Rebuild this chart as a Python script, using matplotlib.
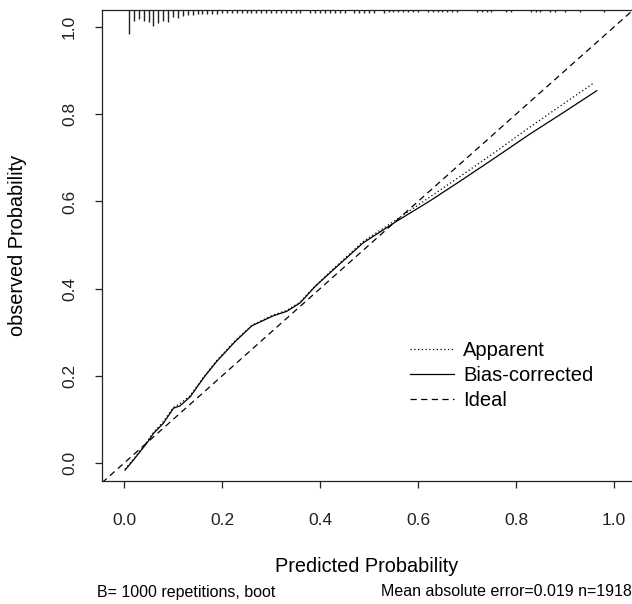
import matplotlib
matplotlib.use("Agg")
import matplotlib.pyplot as plt
from matplotlib.lines import Line2D

plt.rcParams['font.family'] = ['Liberation Sans', 'DejaVu Sans']

# calibration curves
pred_x = [0.002, 0.022, 0.046, 0.06, 0.08, 0.101, 0.114, 0.135, 0.162, 0.189,
          0.227, 0.261, 0.305, 0.332, 0.359, 0.39, 0.42, 0.488, 0.557, 0.624,
          0.692, 0.761, 0.829, 0.897, 0.965]
bias_corrected = [-0.016, 0.011, 0.045, 0.068, 0.091, 0.126, 0.131, 0.152, 0.195, 0.233,
                  0.279, 0.315, 0.338, 0.348, 0.367, 0.405, 0.436, 0.505, 0.555, 0.601,
                  0.651, 0.703, 0.755, 0.804, 0.854]
apparent_x = [0.002, 0.022, 0.046, 0.06, 0.08, 0.101, 0.114, 0.135, 0.162, 0.189,
              0.227, 0.261, 0.305, 0.332, 0.359, 0.39, 0.42, 0.488, 0.557, 0.624,
              0.692, 0.761, 0.829, 0.897, 0.958]
apparent = [-0.014, 0.013, 0.048, 0.070, 0.095, 0.128, 0.136, 0.155, 0.197, 0.235,
            0.281, 0.316, 0.340, 0.350, 0.369, 0.406, 0.438, 0.508, 0.559, 0.610,
            0.662, 0.716, 0.771, 0.824, 0.871]

# rug of predicted probabilities (top of plot)
rug_x = [0.01, 0.02, 0.03, 0.04, 0.05, 0.06, 0.07, 0.08, 0.09, 0.10,
         0.11, 0.12, 0.13, 0.14, 0.15, 0.16, 0.17, 0.18, 0.19, 0.20,
         0.21, 0.22, 0.23, 0.24, 0.25, 0.26, 0.27, 0.28, 0.29, 0.30,
         0.31, 0.32, 0.33, 0.34, 0.35, 0.36, 0.38, 0.39, 0.40, 0.41,
         0.42, 0.43, 0.44, 0.45, 0.47, 0.48, 0.49, 0.50, 0.51, 0.53,
         0.54, 0.55, 0.56, 0.57, 0.58, 0.59, 0.60, 0.62, 0.63, 0.64,
         0.65, 0.66, 0.67, 0.68, 0.72, 0.73, 0.74, 0.75, 0.78, 0.79,
         0.83, 0.84, 0.85, 0.87, 0.88, 0.90, 0.93, 0.98]
rug_n = [96, 44, 36, 44, 48, 64, 52, 44, 48, 28,
         32, 24, 20, 20, 18, 18, 16, 16, 16, 14,
         14, 14, 14, 13, 13, 12, 12, 12, 12, 12,
         12, 12, 12, 12, 12, 12, 12, 12, 12, 12,
         11, 11, 11, 11, 11, 11, 11, 11, 11, 11,
         10, 10, 10, 10, 10, 10, 10, 10, 10, 10,
         10, 10, 10, 10, 10, 10, 10, 10, 10, 10,
         10, 10, 10, 10, 10, 10, 10, 10]

xlim = (-0.045, 1.045)
ylim = (-0.041, 1.039)

fig = plt.figure(figsize=(6.32, 6.04), dpi=100)
ax = fig.add_axes([102/632, 123/604, 534/632, 471/604])

# ideal line
ax.plot(xlim, xlim, color='black', lw=0.9, dashes=(5, 3.5), label='Ideal')
ax.plot(apparent_x, apparent, color='black', lw=0.9, dashes=(1, 2), label='Apparent')
ax.plot(pred_x, bias_corrected, color='black', lw=0.9, label='Bias-corrected')

# rug ticks hanging from the top
top = ylim[1]
for x, n in zip(rug_x, rug_n):
    ax.plot([x, x], [top, top - 0.055 * n / max(rug_n)], color='#222222', lw=1.0,
            solid_capstyle='butt')

ax.set_xlim(*xlim)
ax.set_ylim(*ylim)
ax.set_xticks([0.0, 0.2, 0.4, 0.6, 0.8, 1.0])
ax.set_yticks([0.0, 0.2, 0.4, 0.6, 0.8, 1.0])
ax.set_xticklabels(['0.0', '0.2', '0.4', '0.6', '0.8', '1.0'])
ax.set_yticklabels(['0.0', '0.2', '0.4', '0.6', '0.8', '1.0'], rotation=90, va='center')
ax.tick_params(direction='out', length=5, width=0.9, labelsize=12.5, colors='#222222')
ax.tick_params(axis='x', pad=18)
ax.tick_params(axis='y', pad=13)
for s in ax.spines.values():
    s.set_linewidth(0.9)
    s.set_color('#222222')

handles = [Line2D([], [], color='black', lw=0.9, dashes=(1, 2)),
           Line2D([], [], color='black', lw=0.9),
           Line2D([], [], color='black', lw=0.9, dashes=(5, 3.5))]
ax.legend(handles, ['Apparent', 'Bias-corrected', 'Ideal'], loc='upper left',
          bbox_to_anchor=(410/632, 1 - 341/604), bbox_transform=fig.transFigure,
          frameon=False, fontsize=14.5, handlelength=2.2, handletextpad=0.45,
          labelspacing=0.3, borderpad=0, borderaxespad=0)

fig.text(367/632, 1 - 566/604, 'Predicted Probability', ha='center', va='center', fontsize=14.3)
fig.text(18/632, 1 - 245/604, 'observed Probability', ha='center', va='center',
         rotation=90, fontsize=14.3)
fig.text(97/632, 1 - 592/604, 'B= 1000 repetitions, boot', ha='left', va='center', fontsize=11.5)
fig.text(632/632, 1 - 592/604, 'Mean absolute error=0.019 n=1918', ha='right', va='center',
         fontsize=11.5)

fig.savefig('out.png', dpi=100)
